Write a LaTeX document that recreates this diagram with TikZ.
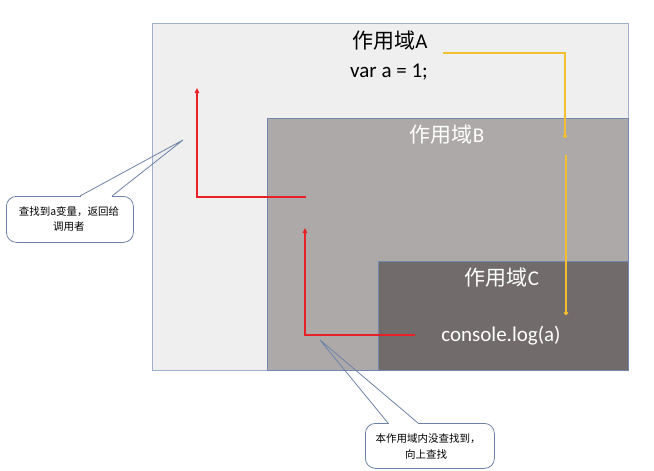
\documentclass[tikz,border=0pt]{standalone}
\usepackage{fontspec}
\setmainfont{Carlito}
\newfontfamily\cjk{Noto Sans CJK SC}
\usetikzlibrary{arrows.meta}
\definecolor{bgA}{RGB}{239,239,239}
\definecolor{bgB}{RGB}{173,169,168}
\definecolor{bgC}{RGB}{113,107,107}
\definecolor{edgeA}{RGB}{160,175,205}
\definecolor{edgeB}{RGB}{115,135,175}
\definecolor{goldl}{RGB}{240,192,50}
\definecolor{redl}{RGB}{232,32,40}
\definecolor{callb}{RGB}{110,130,168}
\tikzset{
  scopebox/.style={draw, line width=1pt, inner sep=0pt, anchor=north west},
  bigtext/.style={font=\fontsize{21}{25}\selectfont, inner sep=0pt},
  calltext/.style={font=\cjk\fontsize{10.5}{13}\selectfont, inner sep=0pt},
  callbox/.style={draw=callb, line width=0.8pt, fill=white, rounded corners=10pt, inner sep=0pt, anchor=north west},
  goldarrow/.style={draw=goldl, line width=1.5pt, -{Circle[length=4pt]}},
  redarrow/.style={draw=redl, line width=1.5pt, -{Triangle[length=5pt,width=4.5pt]}},
}
\begin{document}
\begin{tikzpicture}[x=1pt,y=-1pt]
\useasboundingbox (0,0) rectangle (654,471);
% scope boxes
\node[scopebox, draw=edgeA, fill=bgA, minimum width=476pt, minimum height=347pt] (A) at (152,23) {};
\node[scopebox, draw=edgeB, fill=bgB, minimum width=361pt, minimum height=252pt] (B) at (267,118) {};
\node[scopebox, draw=edgeB, fill=bgC, minimum width=250pt, minimum height=109pt] (C) at (378,261) {};
% labels
\node[bigtext] (tA) at (390,41) {{\cjk 作用域}A};
\node[bigtext] (tvar) at (389,72) {var a = 1;};
\node[bigtext, text=white] (tB) at (447,135) {{\cjk 作用域}B};
\node[bigtext, text=white] (tC) at (502,278) {{\cjk 作用域}C};
\node[bigtext, text=white] (tlog) at (501,336) {console.log(a)};
% yellow arrows
\coordinate (y1) at (443,53);
\coordinate (y2) at (565,138);
\coordinate (y3) at (566,155);
\coordinate (y4) at (566,315);
\draw[goldarrow] (y1) -| (y2);
\draw[goldarrow] (y3) -- (y4);
% red arrows
\coordinate (r1) at (415,335);
\coordinate (r2) at (305,228);
\coordinate (r3) at (306,197);
\coordinate (r4) at (197,88);
\draw[redarrow] (r1) -| (r2);
\draw[redarrow] (r3) -| (r4);
% callout 1
\node[callbox, minimum width=127pt, minimum height=46pt] (c1) at (6,196) {};
\coordinate (c1tip) at (183,140);
\coordinate (c1a) at (80,196);
\coordinate (c1b) at (112,196);
\fill[white] ([xshift=0.5pt,yshift=1pt]c1a) rectangle ([xshift=-0.5pt,yshift=-2pt]c1b);
\draw[callb, line width=0.8pt] (c1a) -- (c1tip) -- (c1b);
\node[calltext] (c1t1) at (69,212) {查找到a变量，返回给};
\node[calltext, anchor=west] (c1t2) at (53,227) {\hspace*{0pt}调用者};
% callout 2
\node[callbox, minimum width=129pt, minimum height=45pt] (c2) at (365,423) {};
\coordinate (c2tip) at (320,340);
\coordinate (c2a) at (388,423);
\coordinate (c2b) at (418,423);
\fill[white] ([xshift=0.5pt,yshift=1pt]c2a) rectangle ([xshift=-0.5pt,yshift=-2pt]c2b);
\draw[callb, line width=0.8pt] (c2a) -- (c2tip) -- (c2b);
\node[calltext] (c2t1) at (428,439) {本作用域内没查找到，};
\node[calltext] (c2t2) at (426,454) {向上查找};
\end{tikzpicture}
\end{document}
